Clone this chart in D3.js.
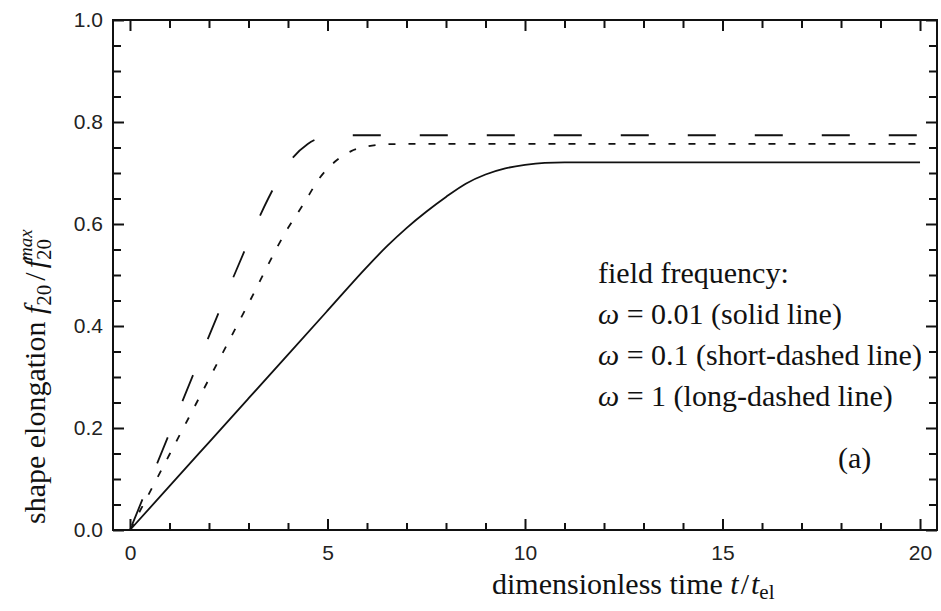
<!DOCTYPE html>
<html>
<head>
<meta charset="utf-8">
<script src="https://cdn.jsdelivr.net/npm/d3@7"></script>
<style>
  body { margin: 0; background: #fff; }
  .tick text { font-family: "Liberation Sans", Arial, sans-serif; font-size: 21px; fill: #222; }
  .tick line { stroke: #111; stroke-width: 2; }
  .lbl { font-family: "Liberation Serif", "Times New Roman", serif; font-size: 30px; fill: #111; }
</style>
</head>
<body>
<div id="chart"></div>
<script>
// omega = 0.01 (solid)
var solidT = [0, 1, 2, 3, 4, 5, 6, 6.5, 7, 7.5, 8, 8.5, 9, 9.5, 10, 10.5, 11, 20];
var solidV = [0, 0.086, 0.172, 0.258, 0.344, 0.43, 0.516, 0.556, 0.592, 0.624, 0.653, 0.679, 0.697, 0.709, 0.716, 0.72, 0.721, 0.721];
// omega = 0.1 (short dashes)
var shortT = [0, 1, 2, 3, 4, 4.4, 4.8, 5.2, 5.6, 6.0, 6.4, 7, 20];
var shortV = [0, 0.148, 0.296, 0.444, 0.592, 0.64, 0.69, 0.723, 0.743, 0.752, 0.756, 0.757, 0.757];
// omega = 1 (long dashes)
var longT = [0, 1, 2, 3, 3.5, 4, 4.5, 5, 5.4, 20];
var longV = [0, 0.19, 0.38, 0.565, 0.65, 0.718, 0.757, 0.772, 0.774, 0.774];

var xMajor = [0, 5, 10, 15, 20];
var yMajor = [0, 0.2, 0.4, 0.6, 0.8, 1.0];

var width = 941, height = 611;
var mLeft = 113, mRight = 937, mTop = 20, mBottom = 530;

var x = d3.scaleLinear().domain([-0.43, 20.43]).range([mLeft, mRight]);
var y = d3.scaleLinear().domain([0, 1]).range([mBottom, mTop]);

var xMinor = d3.range(0, 21, 1).filter(function (d) { return d % 5 != 0; });
var yMinor = d3.range(0, 1.0001, 0.05).filter(function (d) { return Math.round(d * 100) % 20 != 0; });

var svg = d3.select("#chart").append("svg")
    .attr("width", width)
    .attr("height", height);

function drawAxis(axis, tr, hideLabels) {
    var g = svg.append("g").attr("transform", tr).call(axis);
    g.select(".domain").remove();
    if (hideLabels) g.selectAll("text").remove();
    return g;
}

// bottom
drawAxis(d3.axisBottom(x).tickValues(xMajor).tickSize(-11).tickPadding(15).tickFormat(d3.format("d")),
    "translate(0," + mBottom + ")");
drawAxis(d3.axisBottom(x).tickValues(xMinor).tickSize(-7), "translate(0," + mBottom + ")", true);
// top
drawAxis(d3.axisTop(x).tickValues(xMajor).tickSize(-11), "translate(0," + mTop + ")", true);
drawAxis(d3.axisTop(x).tickValues(xMinor).tickSize(-8), "translate(0," + mTop + ")", true);
// left
drawAxis(d3.axisLeft(y).tickValues(yMajor).tickSize(-11).tickPadding(10).tickFormat(d3.format(".1f")),
    "translate(" + mLeft + ",0)");
drawAxis(d3.axisLeft(y).tickValues(yMinor).tickSize(-8), "translate(" + mLeft + ",0)", true);
// right
drawAxis(d3.axisRight(y).tickValues(yMajor).tickSize(-11), "translate(" + mRight + ",0)", true);
drawAxis(d3.axisRight(y).tickValues(yMinor).tickSize(-8), "translate(" + mRight + ",0)", true);

svg.append("rect")
    .attr("x", mLeft).attr("y", mTop)
    .attr("width", mRight - mLeft).attr("height", mBottom - mTop)
    .attr("fill", "none").attr("stroke", "#111").attr("stroke-width", 2);

var line = d3.line()
    .curve(d3.curveMonotoneX)
    .x(function (d) { return x(d[0]); })
    .y(function (d) { return y(d[1]); });

function zip(ts, vs) { return ts.map(function (t, i) { return [t, vs[i]]; }); }

var series = [
    { pts: zip(solidT, solidV), dash: null, off: 0 },
    { pts: zip(shortT, shortV), dash: "7,13", off: 0 },
    { pts: zip(longT, longV), dash: "28,39", off: 62 }
];

svg.selectAll(".curve")
    .data(series).enter().append("path")
    .attr("class", "curve")
    .attr("d", function (d) { return line(d.pts); })
    .attr("fill", "none")
    .attr("stroke", "#111")
    .attr("stroke-width", 1.8)
    .attr("stroke-dasharray", function (d) { return d.dash; })
    .attr("stroke-dashoffset", function (d) { return d.off; });

// legend text
var legend = [
    { pre: null, txt: "field frequency:" },
    { pre: "ω", txt: " = 0.01 (solid line)" },
    { pre: "ω", txt: " = 0.1 (short-dashed line)" },
    { pre: "ω", txt: " = 1 (long-dashed line)" }
];
legend.forEach(function (l, i) {
    var t = svg.append("text").attr("class", "lbl")
        .attr("x", 598).attr("y", 283 + i * 41);
    if (l.pre) t.append("tspan").attr("font-style", "italic").text(l.pre);
    t.append("tspan").text(l.txt);
});

svg.append("text").attr("class", "lbl").attr("x", 838).attr("y", 468).text("(a)");

// x title
var xt = svg.append("text").attr("class", "lbl").attr("x", 492).attr("y", 594);
xt.append("tspan").text("dimensionless time ");
xt.append("tspan").attr("font-style", "italic").text("t");
xt.append("tspan").attr("dx", 2).text("/");
xt.append("tspan").attr("dx", 2).attr("font-style", "italic").text("t");
xt.append("tspan").attr("font-size", "21px").attr("dy", 5).text("el");

// y title
var yt = svg.append("text").attr("class", "lbl")
    .attr("transform", "translate(45,524) rotate(-90)");
yt.append("tspan").text("shape elongation ");
yt.append("tspan").attr("font-style", "italic").text("f");
yt.append("tspan").attr("font-size", "21px").attr("dy", 6).text("20");
yt.append("tspan").attr("dx", 4).attr("dy", -6).text("/");
yt.append("tspan").attr("dx", 4).attr("font-style", "italic").text("f");
yt.append("tspan").attr("font-size", "21px").attr("dy", 6).text("20");
yt.append("tspan").attr("font-size", "19px").attr("font-style", "italic").attr("dx", -22).attr("dy", -19).text("max");
</script>
</body>
</html>
